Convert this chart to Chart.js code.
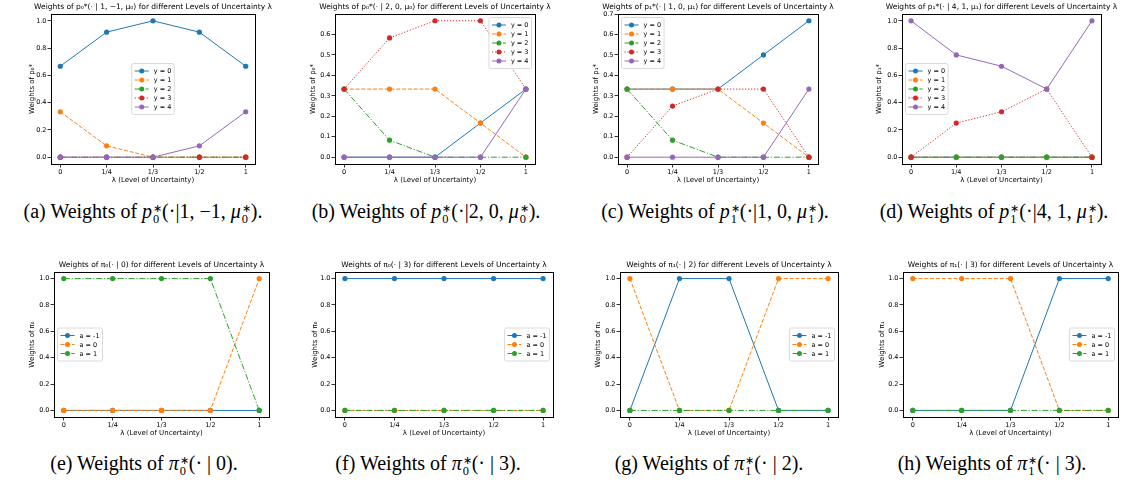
<!DOCTYPE html>
<html>
<head>
<meta charset="utf-8">
<script src="https://cdn.jsdelivr.net/npm/chart.js@4.4.0/dist/chart.umd.min.js"></script>
<style>
  body { margin: 0; background: #fff; width: 1127px; height: 491px; position: relative; overflow: hidden; }
  .cap { position: absolute; font-family: 'Liberation Serif', serif; font-size: 20px; white-space: nowrap; transform: translate(-50%, -50%); color: #000; }
  .cap i { font-style: italic; }
  .ss { display: inline-flex; flex-direction: column; font-size: 0.62em; line-height: 0.9; vertical-align: 0.45em; margin-left: 1px; }
  .ss .st { font-size: 0.85em; }
</style>
</head>
<body>
<div class="cap" style="left:143px;top:213px">(a) Weights of <i>p</i><span class="ss"><span class="st">∗</span><span>0</span></span>(·|1, −1, <i>μ</i><span class="ss"><span class="st">∗</span><span>0</span></span>).</div>
<div class="cap" style="left:426px;top:213px">(b) Weights of <i>p</i><span class="ss"><span class="st">∗</span><span>0</span></span>(·|2, 0, <i>μ</i><span class="ss"><span class="st">∗</span><span>0</span></span>).</div>
<div class="cap" style="left:715px;top:213px">(c) Weights of <i>p</i><span class="ss"><span class="st">∗</span><span>1</span></span>(·|1, 0, <i>μ</i><span class="ss"><span class="st">∗</span><span>1</span></span>).</div>
<div class="cap" style="left:994px;top:213px">(d) Weights of <i>p</i><span class="ss"><span class="st">∗</span><span>1</span></span>(·|4, 1, <i>μ</i><span class="ss"><span class="st">∗</span><span>1</span></span>).</div>
<div class="cap" style="left:144px;top:465px">(e) Weights of <i>π</i><span class="ss"><span class="st">∗</span><span>0</span></span>(· | 0).</div>
<div class="cap" style="left:428px;top:465px">(f) Weights of <i>π</i><span class="ss"><span class="st">∗</span><span>0</span></span>(· | 3).</div>
<div class="cap" style="left:709px;top:465px">(g) Weights of <i>π</i><span class="ss"><span class="st">∗</span><span>1</span></span>(· | 2).</div>
<div class="cap" style="left:992px;top:465px">(h) Weights of <i>π</i><span class="ss"><span class="st">∗</span><span>1</span></span>(· | 3).</div>
<script>
const lambdaLabels = ['0', '1/4', '1/3', '1/2', '1'];
const yNames = ['y = 0', 'y = 1', 'y = 2', 'y = 3', 'y = 4'];
const aNames = ['a = -1', 'a = 0', 'a = 1'];

const ticksUnit = [0, 0.2, 0.4, 0.6, 0.8, 1.0];
const ticksB = [0, 0.1, 0.2, 0.3, 0.4, 0.5, 0.6];
const ticksC = [0, 0.1, 0.2, 0.3, 0.4, 0.5, 0.6, 0.7];

// p0*(.|1,-1)
const weightsA = [
  [0.667, 0.917, 1.0, 0.917, 0.667],
  [0.333, 0.083, 0, 0, 0],
  [0, 0, 0, 0, 0],
  [0, 0, 0, 0, 0],
  [0, 0, 0, 0.083, 0.333]
];
// p0*(.|2,0)
const weightsB = [
  [0, 0, 0, 0.167, 0.333],
  [0.333, 0.333, 0.333, 0.167, 0],
  [0.333, 0.083, 0, 0, 0],
  [0.333, 0.583, 0.667, 0.667, 0.333],
  [0, 0, 0, 0, 0.333]
];
// p1*(.|1,0)
const weightsC = [
  [0.333, 0.333, 0.333, 0.5, 0.667],
  [0.333, 0.333, 0.333, 0.167, 0],
  [0.333, 0.083, 0, 0, 0],
  [0, 0.25, 0.333, 0.333, 0],
  [0, 0, 0, 0, 0.333]
];
// p1*(.|4,1)
const weightsD = [
  [0, 0, 0, 0, 0],
  [0, 0, 0, 0, 0],
  [0, 0, 0, 0, 0],
  [0, 0.25, 0.333, 0.5, 0],
  [1, 0.75, 0.667, 0.5, 1]
];
// pi0(.|0)
const weightsE = [
  [0, 0, 0, 0, 0],
  [0, 0, 0, 0, 1],
  [1, 1, 1, 1, 0]
];
// pi0(.|3)
const weightsF = [
  [1, 1, 1, 1, 1],
  [0, 0, 0, 0, 0],
  [0, 0, 0, 0, 0]
];
// pi1(.|2)
const weightsG = [
  [0, 1, 1, 0, 0],
  [1, 0, 0, 1, 1],
  [0, 0, 0, 0, 0]
];
// pi1(.|3)
const weightsH = [
  [0, 0, 0, 1, 1],
  [1, 1, 1, 0, 0],
  [0, 0, 0, 0, 0]
];

const colors = ['#1f77b4', '#ff7f0e', '#2ca02c', '#d62728', '#9467bd'];
const dashes = [[], [4, 1.8], [6, 1.8, 1.2, 1.8], [1.2, 1.8], []];
const FONT = '"DejaVu Sans", sans-serif';

// frame, title and matplotlib-like legend
const framePlugin = {
  id: 'frame',
  afterDraw(chart, args, opts) {
    const { ctx, chartArea: a } = chart;
    ctx.save();
    ctx.strokeStyle = '#000';
    ctx.lineWidth = 1;
    ctx.strokeRect(Math.round(a.left) + 0.5, Math.round(a.top) + 0.5, Math.round(a.right - a.left), Math.round(a.bottom - a.top));

    ctx.fillStyle = '#000';
    ctx.font = '7.5px ' + FONT;
    ctx.textAlign = 'center';
    ctx.textBaseline = 'middle';
    ctx.fillText(opts.title, (a.left + a.right) / 2, a.top - 6.5);

    const sets = chart.data.datasets;
    const fs = 6.5, rowH = 9, pad = 3, hLen = 14, gap = 5, m = 3.5;
    ctx.font = fs + 'px ' + FONT;
    const tw = Math.max(...sets.map(d => ctx.measureText(d.label).width));
    const w = pad * 2 + hLen + gap + tw, h = pad * 2 + rowH * sets.length;
    const cx = (a.left + a.right) / 2, cy = (a.top + a.bottom) / 2;
    let x = cx - w / 2, y = cy - h / 2;
    if (opts.loc.includes('left')) x = a.left + m;
    if (opts.loc.includes('right')) x = a.right - m - w;
    if (opts.loc.includes('upper')) y = a.top + m;
    ctx.beginPath();
    ctx.roundRect(x, y, w, h, 2);
    ctx.fillStyle = 'rgba(255,255,255,0.8)';
    ctx.fill();
    ctx.strokeStyle = '#d0d0d0';
    ctx.lineWidth = 0.8;
    ctx.stroke();
    sets.forEach((d, i) => {
      const ry = y + pad + rowH * (i + 0.5);
      ctx.strokeStyle = d.borderColor;
      ctx.lineWidth = 1;
      ctx.setLineDash(d.borderDash);
      ctx.beginPath();
      ctx.moveTo(x + pad, ry);
      ctx.lineTo(x + pad + hLen, ry);
      ctx.stroke();
      ctx.setLineDash([]);
      ctx.fillStyle = d.borderColor;
      ctx.beginPath();
      ctx.arc(x + pad + hLen / 2, ry, 2.5, 0, Math.PI * 2);
      ctx.fill();
      ctx.fillStyle = '#000';
      ctx.textAlign = 'left';
      ctx.fillText(d.label, x + pad + hLen + gap, ry + 0.5);
    });
    ctx.restore();
  }
};

function panel(cfg) {
  const c = document.createElement('canvas');
  const top = cfg.row === 0 ? 0 : 250;
  const plotT = cfg.row === 0 ? 14 : 272;
  const plotB = cfg.row === 0 ? 164 : 417;
  const left = cfg.labX - 10;
  const padR = 30;
  const width = cfg.plotR + padR - left;
  const height = plotB + 24 - top;
  c.width = width;
  c.height = height;
  c.style.cssText = `position:absolute;left:${left}px;top:${top}px`;
  document.body.appendChild(c);

  const tickFont = { family: FONT, size: 6.5 };
  const labFont = { family: FONT, size: 7 };
  const gridOpts = { display: true, drawOnChartArea: false, drawTicks: true, tickLength: 3.5, color: '#000', lineWidth: 0.8 };

  new Chart(c, {
    type: 'line',
    data: {
      datasets: cfg.series.map((vals, i) => ({
        label: cfg.names[i],
        data: vals.map((v, k) => ({ x: k, y: v })),
        borderColor: colors[i],
        backgroundColor: colors[i],
        pointBackgroundColor: colors[i],
        borderWidth: 1,
        borderDash: dashes[i],
        pointRadius: 2.6,
        pointBorderWidth: 0,
        order: cfg.series.length - i
      }))
    },
    options: {
      responsive: false,
      animation: false,
      layout: { padding: { top: plotT - top, right: padR, left: 0, bottom: 0 } },
      scales: {
        x: {
          type: 'linear', min: -0.2, max: 4.2, bounds: 'data',
          afterBuildTicks: s => { s.ticks = lambdaLabels.map((_, k) => ({ value: k })); },
          afterFit: s => { s.height = 24; },
          ticks: { callback: v => lambdaLabels[v], autoSkip: false, maxRotation: 0, padding: 1, font: tickFont, color: '#000' },
          grid: gridOpts,
          border: { display: false },
          title: { display: true, text: 'λ (Level of Uncertainty)', font: labFont, color: '#000', padding: { top: 0, bottom: 3.8 } }
        },
        y: {
          type: 'linear', min: cfg.yMin, max: cfg.yMax, bounds: 'data',
          afterBuildTicks: s => { s.ticks = cfg.yTicks.map(v => ({ value: v })); },
          afterFit: s => { s.width = cfg.plotL - left; },
          ticks: { callback: v => v.toFixed(1), autoSkip: false, padding: 1, font: tickFont, color: '#000' },
          grid: gridOpts,
          border: { display: false },
          title: { display: true, text: cfg.yTitle, font: labFont, color: '#000', padding: { top: 5.8, bottom: 0 } }
        }
      },
      plugins: {
        legend: { display: false },
        tooltip: { enabled: false },
        frame: { title: cfg.title, loc: cfg.loc }
      }
    },
    plugins: [framePlugin]
  });
}

const tail = ' for different Levels of Uncertainty λ';

panel({ row: 0, labX: 32, plotL: 51, plotR: 255, series: weightsA, names: yNames, yTicks: ticksUnit, yMin: -0.05, yMax: 1.05,
  title: 'Weights of p₀*(· | 1, −1, μ₀)' + tail, yTitle: 'Weights of p₀*', loc: 'center' });
panel({ row: 0, labX: 313, plotL: 335, plotR: 535, series: weightsB, names: yNames, yTicks: ticksB, yMin: -0.0333, yMax: 0.7,
  title: 'Weights of p₀*(· | 2, 0, μ₀)' + tail, yTitle: 'Weights of p₀*', loc: 'upper right' });
panel({ row: 0, labX: 596, plotL: 618, plotR: 818, series: weightsC, names: yNames, yTicks: ticksC, yMin: -0.0333, yMax: 0.7,
  title: 'Weights of p₁*(· | 1, 0, μ₁)' + tail, yTitle: 'Weights of p₁*', loc: 'upper left' });
panel({ row: 0, labX: 879, plotL: 902, plotR: 1101, series: weightsD, names: yNames, yTicks: ticksUnit, yMin: -0.05, yMax: 1.05,
  title: 'Weights of p₁*(· | 4, 1, μ₁)' + tail, yTitle: 'Weights of p₁*', loc: 'center left' });

panel({ row: 1, labX: 32, plotL: 54, plotR: 269, series: weightsE, names: aNames, yTicks: ticksUnit, yMin: -0.05, yMax: 1.05,
  title: 'Weights of π₀(· | 0)' + tail, yTitle: 'Weights of π₀', loc: 'center left' });
panel({ row: 1, labX: 315, plotL: 335, plotR: 553, series: weightsF, names: aNames, yTicks: ticksUnit, yMin: -0.05, yMax: 1.05,
  title: 'Weights of π₀(· | 3)' + tail, yTitle: 'Weights of π₀', loc: 'center right' });
panel({ row: 1, labX: 598, plotL: 620, plotR: 838, series: weightsG, names: aNames, yTicks: ticksUnit, yMin: -0.05, yMax: 1.05,
  title: 'Weights of π₁(· | 2)' + tail, yTitle: 'Weights of π₁', loc: 'center right' });
panel({ row: 1, labX: 882, plotL: 903, plotR: 1118, series: weightsH, names: aNames, yTicks: ticksUnit, yMin: -0.05, yMax: 1.05,
  title: 'Weights of π₁(· | 3)' + tail, yTitle: 'Weights of π₁', loc: 'center right' });
</script>
</body>
</html>
